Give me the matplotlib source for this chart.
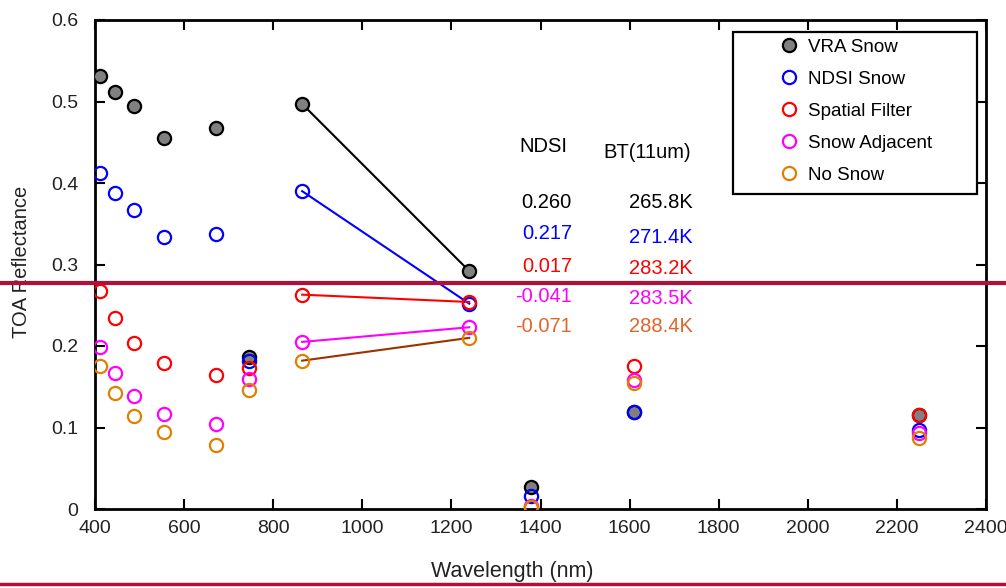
import matplotlib
matplotlib.use("Agg")
import matplotlib.pyplot as plt
from matplotlib.lines import Line2D
from matplotlib.patches import Rectangle

plt.rcParams['font.family'] = ['Liberation Sans', 'DejaVu Sans']

# VIIRS M-band wavelengths (nm)
wavelength = [412, 445, 488, 555, 672, 746, 865, 1240, 1378, 1610, 2250]

vra_snow = [0.531, 0.512, 0.494, 0.455, 0.468, 0.186, 0.497, 0.292, 0.027, 0.119, 0.115]
ndsi_snow = [0.412, 0.388, 0.367, 0.334, 0.337, 0.181, 0.390, 0.252, 0.016, 0.119, 0.097]
spatial_filter = [0.268, 0.234, 0.204, 0.179, 0.164, 0.173, 0.263, 0.254, 0.003, 0.175, 0.115]
snow_adjacent = [0.199, 0.167, 0.139, 0.117, 0.104, 0.160, 0.205, 0.223, 0.004, 0.158, 0.093]
no_snow = [0.175, 0.142, 0.114, 0.094, 0.079, 0.146, 0.182, 0.210, 0.003, 0.154, 0.087]

ndsi_vals = ["0.260", "0.217", "0.017", "-0.041", "-0.071"]
bt_vals = ["265.8K", "271.4K", "283.2K", "283.5K", "288.4K"]

series = [
    ("VRA Snow", vra_snow, "black", "#808080", "black"),
    ("NDSI Snow", ndsi_snow, "#0000ff", "none", "#0000ff"),
    ("Spatial Filter", spatial_filter, "#ff0000", "none", "#ff0000"),
    ("Snow Adjacent", snow_adjacent, "#ff00ff", "none", "#ff00ff"),
    ("No Snow", no_snow, "#e08000", "none", "#993300"),
]
text_colors = ["black", "#0000ff", "#ff0000", "#ff00ff", "#e0652a"]

W, H = 1006, 588
fig = plt.figure(figsize=(W / 100, H / 100), dpi=100)
ax = fig.add_axes([95 / W, 1 - 509 / H, 891 / W, 489 / H])

# connecting segments 865 -> 1240 nm
i0, i1 = wavelength.index(865), wavelength.index(1240)
for name, vals, ec, fc, lc in series:
    ax.plot([wavelength[i0], wavelength[i1]], [vals[i0], vals[i1]],
            color=lc, lw=1.5, zorder=2)

for name, vals, ec, fc, lc in series:
    ax.plot(wavelength, vals, ls="none", marker="o", ms=9.5, mew=1.6,
            mec=ec, mfc=fc, label=name, zorder=3)

ax.set_xlim(400, 2400)
ax.set_ylim(0, 0.6)
ax.set_xticks(range(400, 2401, 200))
ax.set_yticks([0, 0.1, 0.2, 0.3, 0.4, 0.5, 0.6])
ax.set_yticklabels(["0", "0.1", "0.2", "0.3", "0.4", "0.5", "0.6"])
ax.tick_params(direction="in", length=7, width=1.5, top=True, right=True,
               labelsize=14, colors="black", labelcolor="#222222")
ax.tick_params(axis="y", pad=12)
ax.tick_params(axis="x", pad=8)
for s in ax.spines.values():
    s.set_linewidth(2)

fig.text(512 / W, 1 - 571 / H, "Wavelength (nm)", fontsize=15.5,
         color="#222222", ha="center", va="center")
fig.text(22 / W, 1 - 262 / H, "TOA Reflectance", fontsize=14.5,
         color="#222222", ha="center", va="center", rotation=90)

leg = ax.legend(loc="upper left", bbox_to_anchor=(768 / W, 1 - 29 / H),
                bbox_transform=fig.transFigure, fontsize=13.5, frameon=False,
                handletextpad=0.45, labelspacing=0.8, borderpad=0,
                handlelength=1.2)
fig.add_artist(Rectangle((733 / W, 1 - 194 / H), 244 / W, 162 / H,
                         transform=fig.transFigure, fill=False,
                         ec="black", lw=1.6))

# annotation table
fig.text(543 / W, 1 - 147 / H, "NDSI", fontsize=14.5, ha="center", va="center")
fig.text(647 / W, 1 - 153 / H, "BT(11um)", fontsize=14.5, ha="center", va="center")
ndsi_y = [202, 233, 267, 297, 327]
bt_y = [203, 237, 269, 298, 327]
for ny, by, nv, bv, c in zip(ndsi_y, bt_y, ndsi_vals, bt_vals, text_colors):
    fig.text(572 / W, 1 - ny / H, nv, fontsize=14.5, ha="right", va="center", color=c)
    fig.text(693 / W, 1 - by / H, bv, fontsize=14.5, ha="right", va="center", color=c)

# slide decoration lines
fig.add_artist(Line2D([0, 1], [1 - 283 / H, 1 - 283 / H], transform=fig.transFigure,
                      color="#b0103c", lw=3, zorder=10))
fig.add_artist(Line2D([0, 1], [1 - 584 / H, 1 - 584 / H], transform=fig.transFigure,
                      color="#b0103c", lw=2.5, zorder=10))

fig.savefig("out.png", dpi=100)
